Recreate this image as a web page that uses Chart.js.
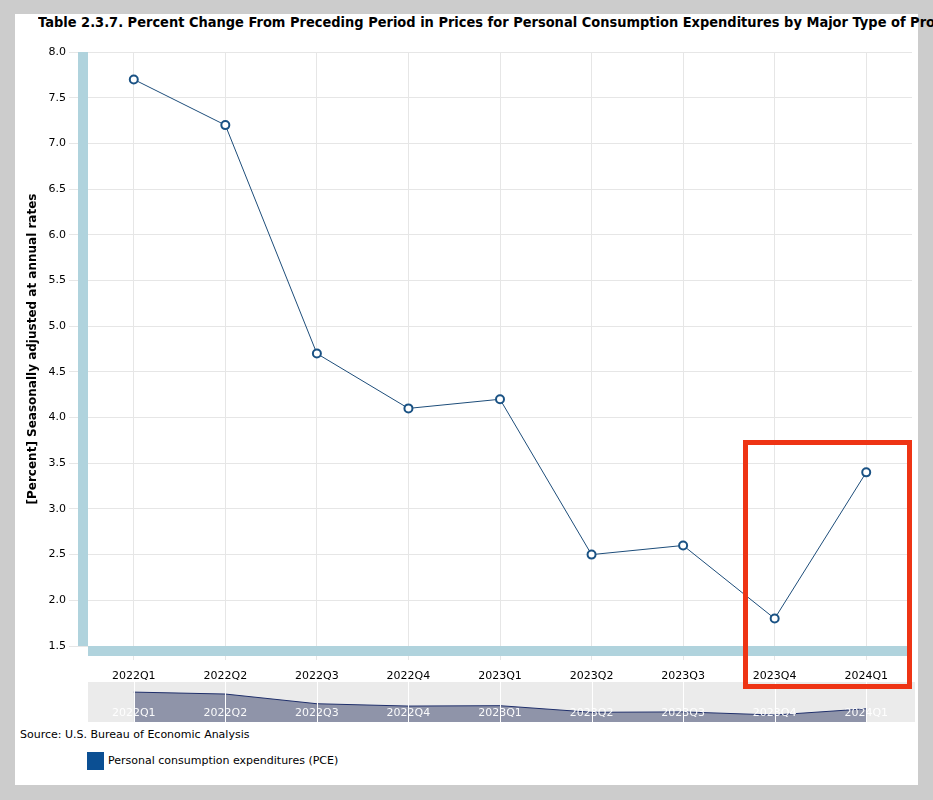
<!DOCTYPE html>
<html>
<head>
<meta charset="utf-8">
<script src="https://cdn.jsdelivr.net/npm/chart.js"></script>
<style>
  html, body { margin:0; padding:0; width:933px; height:800px; overflow:hidden; background:#cccccc; }
  #panel { position:absolute; left:15px; top:14px; width:903px; height:771px; background:#ffffff; }
  #title { position:absolute; left:38px; top:14px; white-space:nowrap; font:bold 14px "DejaVu Sans"; color:#000; transform-origin:0 0; line-height:17px; }
  #main { position:absolute; left:0; top:0; }
  #nav { position:absolute; left:0; top:682px; }
  #source { position:absolute; left:20px; top:728px; font:11px "DejaVu Sans"; color:#000; line-height:14px; }
  #legSwatch { position:absolute; left:87px; top:752px; width:17px; height:18px; background:#0b4f93; }
  #legText { position:absolute; left:108px; top:754px; font:11px "DejaVu Sans"; color:#000; line-height:14px; }
  #highlight { position:absolute; left:743px; top:440px; width:169px; height:249px; box-sizing:border-box; border:5px solid #ee3414; z-index:10; }
</style>
</head>
<body>
<div id="panel"></div>
<div id="title">Table 2.3.7. Percent Change From Preceding Period in Prices for Personal Consumption Expenditures by Major Type of Product</div>
<canvas id="main" width="933" height="700"></canvas>
<canvas id="nav" width="933" height="40"></canvas>
<div id="source">Source: U.S. Bureau of Economic Analysis</div>
<div id="legSwatch"></div>
<div id="legText">Personal consumption expenditures (PCE)</div>
<div id="highlight"></div>
<script>
// ---- data ----
const categories = ['2022Q1','2022Q2','2022Q3','2022Q4','2023Q1','2023Q2','2023Q3','2023Q4','2024Q1'];
const pceValues = [7.7, 7.2, 4.7, 4.1, 4.2, 2.5, 2.6, 1.8, 3.4];
const seriesName = 'Personal consumption expenditures (PCE)';
const yAxisTitle = '[Percent] Seasonally adjusted at annual rates';
const yMin = 1.5, yMax = 8.0, yStep = 0.5;

// ---- title fit (visible part ends at the window edge) ----
(function(){
  const t = document.getElementById('title');
  const c = document.createElement('canvas').getContext('2d');
  c.font = 'bold 14px "DejaVu Sans"';
  const w = c.measureText('Table 2.3.7. Percent Change From Preceding Period in Prices for Personal Consumption Expenditures by Major Type of Pro').width;
  const s = 897 / w;
  t.style.transform = 'scaleX(' + s + ')';
})();

const FONT = 'DejaVu Sans';

const axisBars = {
  id: 'axisBars',
  afterDraw(chart) {
    const { ctx, chartArea: a } = chart;
    ctx.save();
    ctx.fillStyle = '#b0d3dd';
    ctx.fillRect(a.left - 10, a.top, 10, a.bottom - a.top);
    ctx.fillRect(a.left, a.bottom, a.right - a.left, 10);
    ctx.restore();
  }
};

new Chart(document.getElementById('main'), {
  type: 'line',
  data: {
    labels: categories,
    datasets: [{
      label: seriesName,
      data: pceValues,
      borderColor: '#1d4d7a',
      borderWidth: 1,
      tension: 0,
      fill: false,
      pointRadius: 4,
      pointHoverRadius: 4,
      pointBorderWidth: 2,
      pointBackgroundColor: '#ffffff',
      pointBorderColor: '#1a5284'
    }]
  },
  options: {
    responsive: false,
    animation: false,
    layout: { padding: { left: 0, top: 52, right: 21, bottom: 0 } },
    plugins: { legend: { display: false }, title: { display: false }, tooltip: { enabled: false } },
    scales: {
      x: {
        offset: true,
        grid: { offset: false, color: '#e6e6e6', tickLength: 14 },
        border: { display: false },
        ticks: { padding: 10, maxRotation: 0, autoSkip: false, color: '#000', font: { family: FONT, size: 11 } },
        afterFit(s) { s.height = 54; }
      },
      y: {
        min: yMin, max: yMax,
        grid: { color: '#e6e6e6', tickLength: 19 },
        border: { display: false },
        ticks: { stepSize: yStep, padding: 3, color: '#000', font: { family: FONT, size: 11 }, callback: v => Number(v).toFixed(1) },
        title: { display: true, text: yAxisTitle, color: '#000', font: { family: FONT, size: 12, weight: 'bold' }, padding: { top: 26, bottom: 0 } },
        afterFit(s) { s.width = 88; }
      }
    }
  },
  plugins: [axisBars]
});

const navDecor = {
  id: 'navDecor',
  beforeDatasetsDraw(chart) {
    const { ctx, chartArea: a } = chart;
    ctx.save();
    ctx.fillStyle = '#ebebeb';
    ctx.fillRect(a.left, a.top, a.right - a.left + 3, a.bottom - a.top);
    ctx.restore();
  },
  afterDatasetsDraw(chart) {
    const { ctx, chartArea: a, scales: { x } } = chart;
    ctx.save();
    ctx.strokeStyle = '#ffffff';
    ctx.lineWidth = 1;
    categories.forEach((c, i) => {
      const px = Math.round(x.getPixelForValue(i)) + 0.5;
      ctx.beginPath(); ctx.moveTo(px, a.top); ctx.lineTo(px, a.bottom); ctx.stroke();
    });
    ctx.fillStyle = 'rgba(255,255,255,0.95)';
    ctx.font = '11px "' + FONT + '"';
    ctx.textAlign = 'center';
    ctx.textBaseline = 'middle';
    categories.forEach((c, i) => {
      ctx.fillText(c, x.getPixelForValue(i), a.top + 31);
    });
    ctx.restore();
  }
};

new Chart(document.getElementById('nav'), {
  type: 'line',
  data: {
    labels: categories,
    datasets: [{
      data: pceValues,
      borderColor: '#1f2f6b',
      borderWidth: 1,
      backgroundColor: '#8f94a9',
      fill: 'origin',
      tension: 0,
      pointRadius: 0
    }]
  },
  options: {
    responsive: false,
    animation: false,
    layout: { padding: { left: 88, right: 21, top: 0, bottom: 0 } },
    plugins: { legend: { display: false }, tooltip: { enabled: false } },
    scales: {
      x: { display: false, offset: true },
      y: { display: false, min: 0, max: 10.3 }
    }
  },
  plugins: [navDecor]
});
</script>
</body>
</html>
